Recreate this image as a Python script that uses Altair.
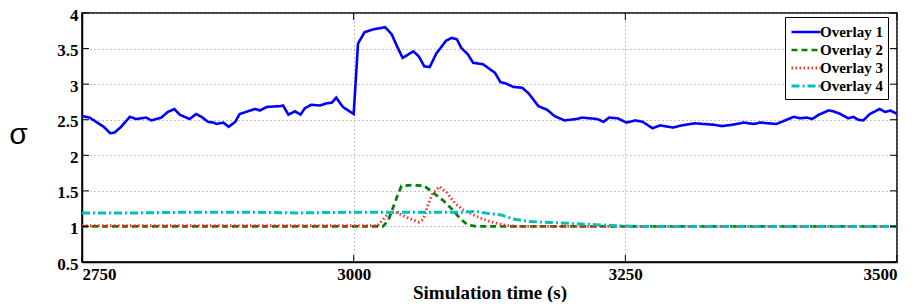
import altair as alt
import pandas as pd

# ---- data ----
t1 = [2750, 2757, 2770, 2776, 2780, 2786, 2794, 2800, 2809, 2814, 2823, 2829, 2835, 2840,
      2849, 2855, 2860, 2866, 2871, 2874, 2880, 2885, 2891, 2895, 2901, 2909, 2914, 2920,
      2932, 2935, 2940, 2946, 2951, 2955, 2961, 2969, 2975, 2980, 2984, 2990, 3000, 3004,
      3010, 3018, 3029, 3035, 3040, 3045, 3055, 3060, 3065, 3070, 3076, 3085, 3090, 3095,
      3099, 3105, 3110, 3119, 3130, 3135, 3140, 3147, 3155, 3161, 3170, 3178, 3185, 3194,
      3205, 3210, 3224, 3230, 3235, 3243, 3251, 3259, 3266, 3275, 3282, 3294, 3302, 3314,
      3322, 3331, 3339, 3349, 3359, 3368, 3374, 3389, 3397, 3405, 3411, 3417, 3422, 3428,
      3437, 3441, 3448, 3455, 3460, 3464, 3469, 3475, 3484, 3489, 3494, 3500]
v1 = [2.55, 2.53, 2.40, 2.31, 2.32, 2.40, 2.54, 2.51, 2.53, 2.49, 2.53, 2.61, 2.65, 2.57,
      2.51, 2.58, 2.54, 2.47, 2.46, 2.44, 2.46, 2.40, 2.47, 2.58, 2.61, 2.65, 2.63, 2.68,
      2.69, 2.70, 2.57, 2.62, 2.57, 2.66, 2.71, 2.70, 2.73, 2.74, 2.81, 2.68, 2.58, 3.57,
      3.73, 3.77, 3.80, 3.70, 3.53, 3.37, 3.46, 3.39, 3.25, 3.24, 3.43, 3.61, 3.65, 3.63,
      3.51, 3.42, 3.30, 3.28, 3.16, 3.03, 3.01, 2.96, 2.95, 2.87, 2.69, 2.64, 2.55, 2.49,
      2.51, 2.53, 2.51, 2.47, 2.53, 2.52, 2.46, 2.49, 2.47, 2.38, 2.42, 2.39, 2.42, 2.45,
      2.44, 2.43, 2.41, 2.43, 2.46, 2.44, 2.46, 2.44, 2.49, 2.54, 2.52, 2.53, 2.51, 2.57,
      2.63, 2.62, 2.58, 2.52, 2.54, 2.50, 2.49, 2.58, 2.65, 2.61, 2.63, 2.58]

t2 = [2750, 3027, 3032, 3040, 3044, 3053, 3065, 3070, 3082, 3090, 3098, 3105, 3113, 3500]
v2 = [1.00, 1.00, 1.09, 1.42, 1.57, 1.58, 1.57, 1.51, 1.37, 1.25, 1.11, 1.02, 1.00, 1.00]

t3 = [2750, 3022, 3033, 3040, 3050, 3060, 3064, 3069, 3073, 3079, 3086, 3093, 3101, 3113,
      3125, 3138, 3150, 3500]
v3 = [1.01, 1.01, 1.20, 1.19, 1.12, 1.06, 1.10, 1.33, 1.47, 1.56, 1.47, 1.33, 1.23, 1.14,
      1.07, 1.02, 1.00, 1.00]

t4 = [2750, 2800, 2850, 2900, 2950, 3000, 3050, 3100, 3112, 3125, 3136, 3148, 3162, 3176,
      3190, 3202, 3216, 3228, 3242, 3260, 3500]
v4 = [1.19, 1.19, 1.20, 1.20, 1.19, 1.20, 1.20, 1.20, 1.21, 1.18, 1.16, 1.10, 1.07, 1.06,
      1.05, 1.04, 1.03, 1.02, 1.01, 1.00, 1.00]

series_names = ["Overlay 1", "Overlay 2", "Overlay 3", "Overlay 4"]
series_colors = ["#0000ff", "#008000", "#ff3030", "#00bfbf"]
series_dash = [[1, 0], [6, 4], [1.5, 2.5], [8, 3, 2, 3]]
series_width = [2.6, 3.0, 1.4, 2.6]

x_ticks = [2750, 3000, 3250, 3500]
y_ticks = [0.5, 1, 1.5, 2, 2.5, 3, 3.5, 4]

W, H = 815, 249
TICK = 7
SERIF = "Times New Roman, Liberation Serif, Times, Noto Serif, DejaVu Serif, serif"

rows = []
for name, ts, vs in zip(series_names, [t1, t2, t3, t4], [v1, v2, v3, v4]):
    for t, v in zip(ts, vs):
        rows.append({"series": name, "t": t, "v": v})
df = pd.DataFrame(rows)

xscale = alt.Scale(domain=[2750, 3500], nice=False, zero=False)
yscale = alt.Scale(domain=[0.5, 4], nice=False, zero=False)

lines = alt.Chart(df).mark_line(clip=True).encode(
    x=alt.X("t:Q", scale=xscale,
            axis=alt.Axis(title="Simulation time (s)", values=x_ticks, format="d",
                          tickCount=20,
                          grid=True, gridDash=[1, 3], gridColor="#888888", gridWidth=1,
                          ticks=False, labelPadding=4, labelFont=SERIF, labelFontSize=17,
                          labelFontWeight="bold", labelColor="black", labelOverlap=False,
                          titleFont=SERIF, titleFontSize=19, titleFontWeight="bold",
                          titleColor="black", titleY=30, titleBaseline="middle",
                          domainColor="black", domainWidth=1.5)),
    y=alt.Y("v:Q", scale=yscale,
            axis=alt.Axis(title="σ", values=y_ticks, format="~g", tickCount=20,
                          grid=True, gridDash=[1, 3], gridColor="#888888", gridWidth=1,
                          ticks=False, labelPadding=4, labelFont=SERIF, labelFontSize=17,
                          labelFontWeight="bold", labelColor="black", labelOverlap=False,
                          labelOffset=2,
                          titleFont="Liberation Sans", titleFontSize=30, titleFontWeight="normal",
                          titleColor="black", titleAngle=0, titleX=-64, titleY=121,
                          titleAlign="center", titleBaseline="middle",
                          domainColor="black", domainWidth=1.5)),
    color=alt.Color("series:N", scale=alt.Scale(domain=series_names, range=series_colors),
                    legend=alt.Legend(title=None, orient="none", legendX=703, legendY=4,
                                      symbolType="M-1,0L2.4,0", symbolSize=289,
                                      symbolStrokeWidth=2.6, labelFont=SERIF,
                                      labelFontSize=15, labelFontWeight="bold",
                                      labelColor="black", strokeColor="black",
                                      fillColor="white", padding=5, rowPadding=0,
                                      labelOffset=10)),
    strokeDash=alt.StrokeDash("series:N",
                              scale=alt.Scale(domain=series_names, range=series_dash),
                              legend=None),
    strokeWidth=alt.StrokeWidth("series:N",
                                scale=alt.Scale(domain=series_names, range=series_width),
                                legend=None),
    order=alt.Order("t:Q"),
)

ydf = pd.DataFrame({"v": y_ticks})
xdf = pd.DataFrame({"t": x_ticks})

ytick_left = alt.Chart(ydf).mark_rule(color="black", strokeWidth=1).encode(
    y=alt.Y("v:Q", scale=yscale), x=alt.value(0), x2=alt.value(TICK))
ytick_right = alt.Chart(ydf).mark_rule(color="black", strokeWidth=1).encode(
    y=alt.Y("v:Q", scale=yscale), x=alt.value(W - TICK), x2=alt.value(W))
xtick_bottom = alt.Chart(xdf).mark_rule(color="black", strokeWidth=1).encode(
    x=alt.X("t:Q", scale=xscale), y=alt.value(H - TICK), y2=alt.value(H))
xtick_top = alt.Chart(xdf).mark_rule(color="black", strokeWidth=1).encode(
    x=alt.X("t:Q", scale=xscale), y=alt.value(0), y2=alt.value(TICK))

chart = alt.layer(lines, ytick_left, ytick_right, xtick_bottom, xtick_top).properties(
    width=W, height=H,
    autosize=alt.AutoSizeParams(type="none"),
    padding={"left": 74, "top": 5, "right": 8, "bottom": 40},
    background="white",
).configure_view(stroke="black", strokeWidth=1.5)

chart.save("out.html", embed_options={"renderer": "svg", "actions": False})
